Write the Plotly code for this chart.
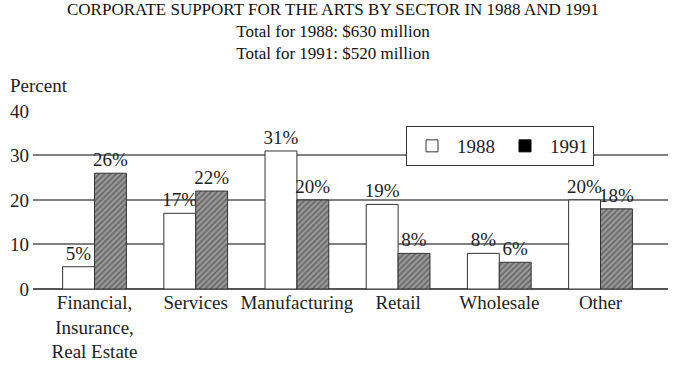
import plotly.graph_objects as go

categories = ["Financial,<br>Insurance,<br>Real Estate", "Services", "Manufacturing", "Retail", "Wholesale", "Other"]
values_1988 = [5, 17, 31, 19, 8, 20]
values_1991 = [26, 22, 20, 8, 6, 18]
y_ticks = [0, 10, 20, 30, 40]
title_lines = ["CORPORATE SUPPORT FOR THE ARTS BY SECTOR IN 1988 AND 1991",
               "Total for 1988: $630 million",
               "Total for 1991: $520 million"]

FONT = "Liberation Serif"
FS = 19
x_idx = list(range(len(categories)))

# plot area in pixels: left 33, right 668, top 110, bottom 289
L, R, T, B = 33, 668, 110, 289
def px(x):
    return (x - L) / (R - L)
def py(y):
    return (B - y) / (B - T)

fig = go.Figure()
fig.add_trace(go.Bar(
    x=x_idx, y=values_1988, name="1988", showlegend=False, offsetgroup="a",
    marker=dict(color="white", line=dict(color="#333", width=1)),
    text=[f"{v}%" for v in values_1988], textposition="outside", constraintext="none",
    textfont=dict(family=FONT, size=FS, color="#222"), cliponaxis=False,
))
fig.add_trace(go.Bar(
    x=x_idx, y=values_1991, name="1991", showlegend=False, offsetgroup="b",
    marker=dict(color="#888", line=dict(color="#333", width=1),
                pattern=dict(shape="/", fgcolor="#333", bgcolor="#9a9a9a", size=4, solidity=0.45)),
    text=[f"{v}%" for v in values_1991], textposition="outside", constraintext="none",
    textfont=dict(family=FONT, size=FS, color="#222"), cliponaxis=False,
))
# legend entries
fig.add_trace(go.Bar(x=[None], y=[None], name="1988", offsetgroup="a",
                     marker=dict(color="white", line=dict(color="#333", width=1))))
fig.add_trace(go.Bar(x=[None], y=[None], name="1991", offsetgroup="b",
                     marker=dict(color="black", line=dict(color="black", width=1))))

title_text = "<br>".join(title_lines)
annotations = [
    dict(text=title_text, xref="paper", yref="paper", x=px(333), y=py(32),
         xanchor="center", yanchor="middle", align="center", showarrow=False,
         font=dict(family=FONT, size=17, color="#111")),
    dict(text="Percent", xref="paper", yref="paper", x=px(8), y=py(86),
         xanchor="left", yanchor="middle", showarrow=False,
         font=dict(family=FONT, size=FS, color="#222")),
]

fig.update_layout(
    width=688, height=384,
    margin=dict(l=L, r=688 - R, t=T, b=384 - B),
    paper_bgcolor="white", plot_bgcolor="white",
    barmode="group", bargap=0.37, bargroupgap=0,
    font=dict(family=FONT, size=FS, color="#222"),
    xaxis=dict(
        range=[-0.608, 5.667], tickmode="array", tickvals=x_idx, ticktext=categories,
        showgrid=False, zeroline=False, showline=False, ticks="", automargin=False,
        tickfont=dict(family=FONT, size=FS, color="#222"),
    ),
    yaxis=dict(
        range=[0, 40.2], tickmode="array", tickvals=y_ticks,
        showgrid=True, gridcolor="#808080", gridwidth=1.5,
        zeroline=True, zerolinecolor="#555", zerolinewidth=1.5,
        showline=False, ticks="", ticklabelstandoff=3, automargin=False,
        tickfont=dict(family=FONT, size=FS, color="#222"),
    ),
    legend=dict(
        orientation="h", x=px(406), y=py(126), xanchor="left", yanchor="top",
        bordercolor="#333", borderwidth=1, bgcolor="white",
        font=dict(family=FONT, size=FS, color="#222"),
        itemwidth=40, traceorder="normal",
    ),
    annotations=annotations,
)

fig.write_html("out.html", config={"displayModeBar": False},
               post_script="document.body.style.margin='0';")
